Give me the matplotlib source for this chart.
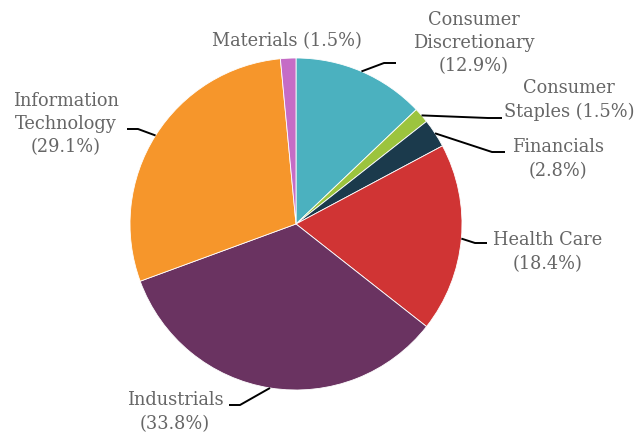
import numpy as np
import matplotlib
matplotlib.use("Agg")
import matplotlib.pyplot as plt

# sector weights, clockwise from 12 o'clock
sectors = ["Consumer Discretionary", "Consumer Staples", "Financials", "Health Care",
           "Industrials", "Information Technology", "Materials"]
weights = [12.9, 1.5, 2.8, 18.4, 33.8, 29.1, 1.5]
colors = ["#4bb1bf", "#9cc43e", "#1b3a4c", "#d03434", "#6a3361", "#f6962b", "#c56cc6"]
label_text = ["Consumer\nDiscretionary\n(12.9%)", "Consumer\nStaples (1.5%)", "Financials\n(2.8%)",
              "Health Care\n(18.4%)", "Industrials\n(33.8%)", "Information\nTechnology\n(29.1%)",
              "Materials (1.5%)"]

W, H = 639, 435
fig = plt.figure(figsize=(W / 100, H / 100), dpi=100)
ax = fig.add_axes([0, 0, 1, 1])

cx, cy, r = 296, H - 225, 166
wedges, _ = ax.pie(weights, colors=colors, startangle=90, counterclock=False,
                   center=(cx, cy), radius=r, frame=True,
                   wedgeprops=dict(edgecolor="white", linewidth=0.6))
ax.set_xlim(0, W)
ax.set_ylim(0, H)
ax.axis("off")

# label layout (pixels from top-left): elbow, line end, text centre
layout = [
    ((384, 64), (396, 64), (474, 43)),
    ((488, 119), (502, 119), (569, 100)),
    ((492, 153), (505, 153), (558, 159)),
    ((475, 244), (487, 244), (548, 252)),
    ((240, 406), (229, 406), (175, 412)),
    ((138, 130), (127, 130), (66, 124)),
    (None, None, (287, 41)),
]

for w, txt, (elbow, end, pos) in zip(wedges, label_text, layout):
    ang = np.deg2rad((w.theta1 + w.theta2) / 2)
    ex, ey = cx + r * np.cos(ang), cy + r * np.sin(ang)
    if elbow is not None:
        ax.plot([ex, elbow[0], end[0]], [ey, H - elbow[1], H - end[1]],
                color="black", lw=1.4, solid_capstyle="butt")
    ax.text(pos[0], H - pos[1], txt, ha="center", va="center", color="#666666",
            fontsize=12.8, family="DejaVu Serif", linespacing=1.38)

fig.savefig("out.png", dpi=100)
